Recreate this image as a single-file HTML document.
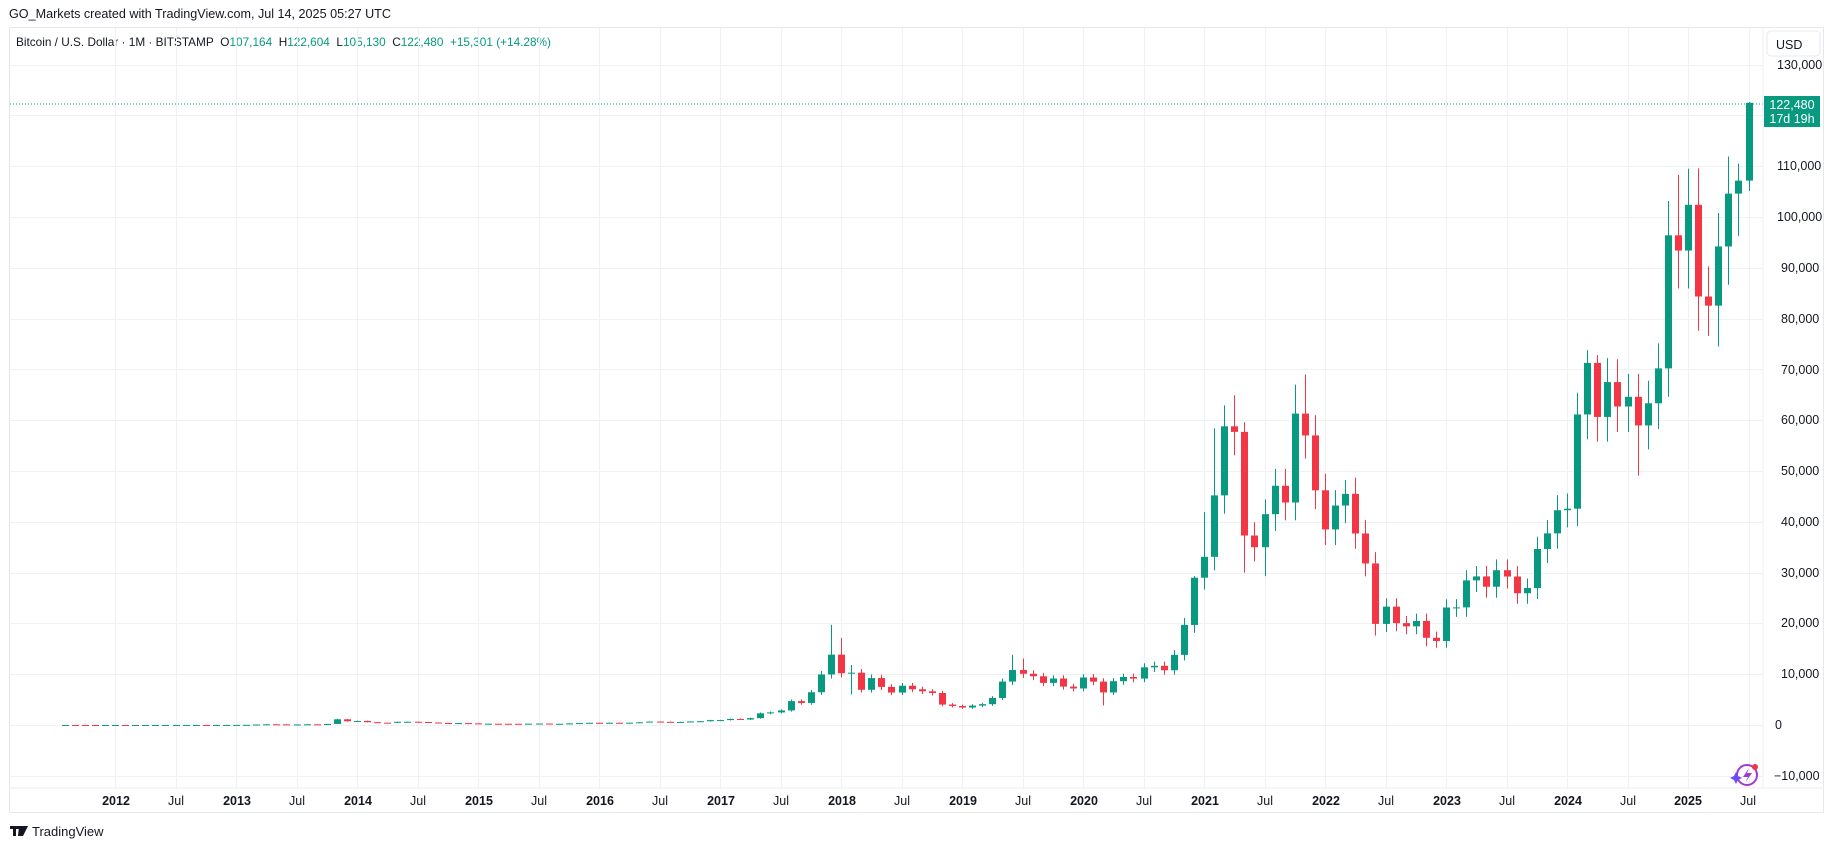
<!DOCTYPE html>
<html><head><meta charset="utf-8"><style>
body{margin:0;width:1835px;height:850px;background:#fff;font-family:"Liberation Sans","DejaVu Sans",sans-serif;color:#131722;overflow:hidden;position:relative}
.t{position:absolute;white-space:nowrap}
</style></head><body>
<div class="t" style="left:9px;top:7px;font-size:12.6px">GO_Markets created with TradingView.com, Jul 14, 2025 05:27 UTC</div>
<div style="position:absolute;left:9px;top:27px;width:1815px;height:786px;border:1px solid #e6e8ee;box-sizing:border-box"></div>
<div class="t" style="left:16px;top:35px;font-size:11.8px">Bitcoin / U.S. Dollar · 1M · BITSTAMP&nbsp; O<span style="color:#089981">107,164</span>&nbsp; H<span style="color:#089981">122,604</span>&nbsp; L<span style="color:#089981">105,130</span>&nbsp; C<span style="color:#089981">122,480</span>&nbsp; <span style="color:#089981">+15,301 (+14.28%)</span></div>
<svg id="s" width="1835" height="850" style="position:absolute;left:0;top:0">
<g id="grid" stroke="#f0f1f4" stroke-width="1"></g>
<line x1="10" x2="1763" y1="104" y2="104" stroke="#089981" stroke-dasharray="1,2"/>
<g id="c"></g>
<line x1="1763" x2="1763" y1="28" y2="788" stroke="#eceef2"/>
<line x1="10" x2="1824" y1="788" y2="788" stroke="#eceef2"/>
<g font-size="12.5" fill="#131722" font-family="Liberation Sans, sans-serif">
<text x="1777" y="69">130,000</text><text x="1777" y="170">110,000</text><text x="1777" y="221">100,000</text>
<text x="1781" y="272">90,000</text><text x="1781" y="323">80,000</text><text x="1781" y="374">70,000</text>
<text x="1781" y="424">60,000</text><text x="1781" y="475">50,000</text><text x="1781" y="526">40,000</text>
<text x="1781" y="577">30,000</text><text x="1781" y="627">20,000</text><text x="1781" y="678">10,000</text>
<text x="1775" y="729">0</text><text x="1774" y="780">−10,000</text>
</g>
<g font-size="12.5" fill="#131722" text-anchor="middle" font-family="Liberation Sans, sans-serif">
<text x="116" y="805" font-weight="bold">2012</text><text x="176" y="805">Jul</text>
<text x="237" y="805" font-weight="bold">2013</text><text x="297" y="805">Jul</text>
<text x="358" y="805" font-weight="bold">2014</text><text x="418" y="805">Jul</text>
<text x="479" y="805" font-weight="bold">2015</text><text x="539" y="805">Jul</text>
<text x="600" y="805" font-weight="bold">2016</text><text x="660" y="805">Jul</text>
<text x="721" y="805" font-weight="bold">2017</text><text x="781" y="805">Jul</text>
<text x="842" y="805" font-weight="bold">2018</text><text x="902" y="805">Jul</text>
<text x="963" y="805" font-weight="bold">2019</text><text x="1023" y="805">Jul</text>
<text x="1084" y="805" font-weight="bold">2020</text><text x="1144" y="805">Jul</text>
<text x="1205" y="805" font-weight="bold">2021</text><text x="1265" y="805">Jul</text>
<text x="1326" y="805" font-weight="bold">2022</text><text x="1386" y="805">Jul</text>
<text x="1447" y="805" font-weight="bold">2023</text><text x="1507" y="805">Jul</text>
<text x="1568" y="805" font-weight="bold">2024</text><text x="1628" y="805">Jul</text>
<text x="1688" y="805" font-weight="bold">2025</text><text x="1748" y="805">Jul</text>
</g>
<rect x="1767" y="31" width="53" height="25" rx="4" fill="#fff" stroke="#e6e8ee"/>
<text x="1776" y="49" font-size="12.5" fill="#131722" font-family="Liberation Sans, sans-serif">USD</text>
<rect x="1764" y="96" width="56" height="31" fill="#089981"/>
<text x="1792" y="109" font-size="12.5" fill="#fff" text-anchor="middle" font-family="Liberation Sans, sans-serif">122,480</text>
<text x="1792" y="123" font-size="12.5" fill="#fff" text-anchor="middle" font-family="Liberation Sans, sans-serif">17d 19h</text>
<circle cx="1747" cy="775" r="10" fill="none" stroke="#a23ad0" stroke-width="2"/>
<path d="M1749 768 L1743 777 L1748 777 L1745 783 L1752 773 L1747 773Z" fill="#a23ad0"/>
<circle cx="1755" cy="767" r="3" fill="#f23645"/>
<path d="M1736 772 l2 4 4 2 -4 2 -2 4 -2 -4 -4 -2 4 -2z" fill="#6d4cf5"/>
<path d="M10 826h9v3h-3v7h-3v-7h-3z M19 826h4l-2 10h-3z M23 826h5l-5 10h-3z" fill="#131722"/>
<text x="32" y="836" font-size="13" fill="#131722" font-family="Liberation Sans, sans-serif">TradingView</text>
</svg>
<script>
var NS="http://www.w3.org/2000/svg";
function X(y,m){return 1688+((y-2025)+m/12)*121;}
function Y(v){return 725-v*0.00508;}
var g=document.getElementById('grid');
function ln(a,b,c,d){var l=document.createElementNS(NS,'line');l.setAttribute('x1',a);l.setAttribute('y1',b);l.setAttribute('x2',c);l.setAttribute('y2',d);g.appendChild(l);}
for(var v=-10000;v<=130000;v+=10000){var y=Math.round(Y(v))+.5;ln(10,y,1763,y);}
for(var yr=2012;yr<=2025;yr++){for(var h=0;h<2;h++){var x=Math.round(X(yr,h*6))+.5;ln(x,28,x,788);}}
var C=[10,5,3.2,3,4.7,5.5,4.9,4.9,5,5.2,6.7,9.3,10,12.4,11.2,12.5,13.5,
20,33,93,139,129,97,106,135,133,204,1120,732,
800,550,450,445,630,640,585,480,386,338,378,320,
217,254,244,236,230,263,284,230,236,314,377,430,
368,437,416,448,531,673,624,575,609,700,742,964,
970,1190,1080,1350,2300,2480,2870,4700,4340,6450,9950,13850,
10200,10300,6930,9240,7500,6390,7730,7030,6630,6300,4020,3740,
3440,3820,4100,5320,8550,10820,10080,9590,8290,9150,7560,7190,
9350,8540,6410,8620,9450,9140,11350,11650,10780,13800,19700,28990,
33100,45200,58800,57700,37300,35000,41500,47100,43800,61300,57000,46200,
38500,43200,45500,37700,31800,19900,23300,20050,19420,20490,17170,16540,
23130,23150,28470,29250,27220,30470,29230,25940,26960,34650,37720,42280,
42580,61130,71280,60640,67500,62700,64600,58970,63330,70200,96400,93400,
102400,84350,82550,94200,104600,107160,122480];
var HI={"2017-11":19700,"2018-0":17150,"2018-1":11800,"2018-3":9950,"2019-5":13800,"2019-6":13100,"2020-2":9200,"2020-11":29300,"2021-0":41900,"2021-1":58400,"2021-3":64900,"2021-4":59600,"2021-10":69000,"2021-9":67000,"2022-2":48200,"2024-2":73800,"2024-3":72800,"2024-5":72000,"2024-11":108300,"2025-0":109500,"2025-4":111900,"2025-5":110500,"2025-6":122604};
var LO={"2018-1":6000,"2020-2":3850,"2021-4":30000,"2021-6":29300,"2022-5":17600,"2022-10":15500,"2024-7":49100,"2025-3":74500,"2025-6":105130,"2025-2":76600};
var cg=document.getElementById('c');
var y=2011,m=7;
for(var i=0;i<C.length;i++){
 var o=i?C[i-1]:C[0],c=C[i];if(i==C.length-1)o=107164;
 var k=y+"-"+m;var hi=HI[k]||Math.max(o,c)*1.07,lo=LO[k]||Math.min(o,c)*0.92;
 var col=c>=o?"#089981":"#f23645";var x=Math.round(X(y,m));
 var w=document.createElementNS(NS,'line');w.setAttribute('x1',x+.5);w.setAttribute('x2',x+.5);w.setAttribute('y1',Y(hi));w.setAttribute('y2',Y(lo));w.setAttribute('stroke',col);cg.appendChild(w);
 var r=document.createElementNS(NS,'rect');var t=Y(Math.max(o,c)),b=Y(Math.min(o,c));r.setAttribute('x',x-3);r.setAttribute('width',7);r.setAttribute('y',t);r.setAttribute('height',Math.max(1,b-t));r.setAttribute('fill',col);cg.appendChild(r);
 m++;if(m>11){m=0;y++;}
}
</script>
</body></html>
